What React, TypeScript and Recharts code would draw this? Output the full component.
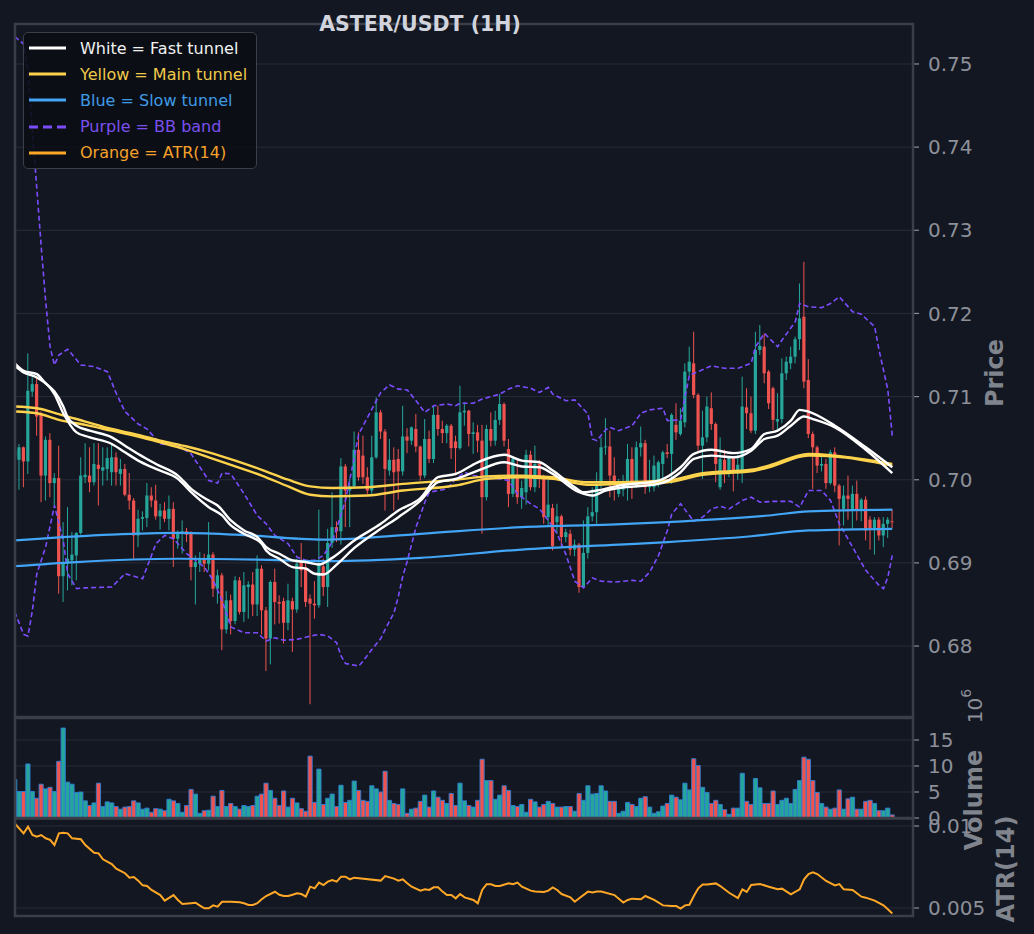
import React from "react";
import {
  ComposedChart,
  Bar,
  Line,
  XAxis,
  YAxis,
  CartesianGrid,
  Cell,
  Legend,
} from "recharts";

// hourly candles, index 0..199
const opens = [
  0.7028, 0.7024, 0.7039, 0.7022, 0.7106, 0.7115, 0.7078, 0.7005, 0.7048, 0.6996,
  0.7002, 0.6884, 0.6901, 0.6903, 0.6909, 0.6936, 0.7003, 0.7005, 0.6997, 0.7018,
  0.7011, 0.7013, 0.7009, 0.7027, 0.7007, 0.7013, 0.6982, 0.6975, 0.6933, 0.6953,
  0.6954, 0.6981, 0.6975, 0.6956, 0.6963, 0.6953, 0.6965, 0.6929, 0.6935, 0.6938,
  0.6935, 0.6895, 0.6899, 0.6905, 0.6899, 0.691, 0.6869, 0.6885, 0.682, 0.6855,
  0.683, 0.6879, 0.6841, 0.6871, 0.6874, 0.685, 0.6893, 0.6843, 0.6809, 0.6877,
  0.6853, 0.6854, 0.6828, 0.6854, 0.6844, 0.6901, 0.6895, 0.6857, 0.6851, 0.6849,
  0.6896, 0.6871, 0.6924, 0.6943, 0.6938, 0.7016, 0.6987, 0.6992, 0.7036, 0.7029,
  0.7003, 0.6987, 0.7027, 0.7081, 0.7058, 0.7011, 0.7024, 0.7025, 0.701, 0.7052,
  0.7047, 0.7061, 0.704, 0.7005, 0.7049, 0.7025, 0.7078, 0.7061, 0.7056, 0.7065,
  0.7046, 0.7038, 0.7081, 0.7083, 0.7055, 0.7057, 0.7047, 0.6979, 0.7061, 0.7047,
  0.7072, 0.7091, 0.7037, 0.6983, 0.7005, 0.6979, 0.6985, 0.703, 0.6991, 0.7019,
  0.7003, 0.6955, 0.6966, 0.6949, 0.6956, 0.6931, 0.6935, 0.6916, 0.6922, 0.6871,
  0.6912, 0.6956, 0.6961, 0.6995, 0.7039, 0.704, 0.7005, 0.6983, 0.6988, 0.6991,
  0.7025, 0.6993, 0.7039, 0.7044, 0.6991, 0.6991, 0.6995, 0.7019, 0.7033, 0.7031,
  0.7066, 0.7055, 0.7069, 0.713, 0.714, 0.7102, 0.7041, 0.7051, 0.7086, 0.7067,
  0.6991, 0.7024, 0.7008, 0.7027, 0.7008, 0.701, 0.7087, 0.708, 0.7059, 0.7156,
  0.716, 0.713, 0.711, 0.707, 0.7073, 0.7128, 0.714, 0.7148, 0.7169, 0.7196,
  0.712, 0.7055, 0.7039, 0.7017, 0.7019, 0.6996, 0.7033, 0.6993, 0.6965, 0.6981,
  0.6963, 0.6983, 0.6964, 0.6976, 0.6952, 0.694, 0.6952, 0.6933, 0.6947, 0.695,
];
const highs = [
  0.7042, 0.7043, 0.704, 0.7152, 0.7123, 0.7122, 0.7082, 0.7052, 0.7056, 0.7008,
  0.7041, 0.6949, 0.6967, 0.6937, 0.6937, 0.7027, 0.7044, 0.7039, 0.7044, 0.7044,
  0.7039, 0.7039, 0.7044, 0.7033, 0.7025, 0.7019, 0.7008, 0.6978, 0.6964, 0.6962,
  0.6996, 0.6991, 0.6994, 0.6971, 0.6973, 0.6981, 0.6973, 0.6939, 0.6951, 0.6942,
  0.6938, 0.6909, 0.6913, 0.6911, 0.6949, 0.6913, 0.6892, 0.6888, 0.6866, 0.6862,
  0.6884, 0.6883, 0.6889, 0.6878, 0.6889, 0.6909, 0.6897, 0.6847, 0.6879, 0.6893,
  0.6861, 0.6858, 0.6875, 0.6858, 0.6905, 0.6924, 0.69, 0.6862, 0.6878, 0.6964,
  0.6905, 0.6941, 0.6985, 0.695, 0.7026, 0.7019, 0.7001, 0.7058, 0.7057, 0.7053,
  0.7015, 0.7053, 0.7099, 0.7084, 0.7061, 0.7049, 0.7039, 0.7037, 0.7089, 0.7062,
  0.7064, 0.7079, 0.7041, 0.7073, 0.7059, 0.7089, 0.7089, 0.7071, 0.7067, 0.7067,
  0.7053, 0.7113, 0.7093, 0.7084, 0.7069, 0.7066, 0.7066, 0.7066, 0.7081, 0.7083,
  0.7103, 0.7093, 0.7049, 0.7027, 0.7025, 0.6999, 0.7036, 0.7035, 0.7041, 0.7024,
  0.7006, 0.7, 0.6971, 0.6971, 0.6958, 0.6941, 0.694, 0.6928, 0.6924, 0.6951,
  0.6967, 0.6991, 0.7009, 0.7051, 0.7074, 0.7059, 0.7027, 0.7001, 0.7006, 0.7043,
  0.7039, 0.7046, 0.7064, 0.7048, 0.7024, 0.7029, 0.7023, 0.7035, 0.7043, 0.708,
  0.7092, 0.7086, 0.714, 0.716, 0.7178, 0.7104, 0.7083, 0.71, 0.7105, 0.7069,
  0.7051, 0.7036, 0.7028, 0.7028, 0.703, 0.7124, 0.711, 0.71, 0.7178, 0.7186,
  0.7176, 0.7132, 0.7112, 0.7104, 0.7146, 0.7148, 0.716, 0.7172, 0.7236, 0.7262,
  0.7145, 0.7058, 0.7041, 0.703, 0.7025, 0.7036, 0.7039, 0.6995, 0.6993, 0.7005,
  0.6993, 0.6999, 0.6978, 0.698, 0.6956, 0.6955, 0.6955, 0.6955, 0.6955, 0.6964,
];
const lows = [
  0.702, 0.6988, 0.6991, 0.7007, 0.71, 0.7053, 0.6973, 0.6975, 0.6979, 0.6969,
  0.6863, 0.6853, 0.6867, 0.6873, 0.6879, 0.6934, 0.6996, 0.6985, 0.6993, 0.6969,
  0.6993, 0.6999, 0.6993, 0.6993, 0.6993, 0.698, 0.6964, 0.6905, 0.6919, 0.6939,
  0.6943, 0.6967, 0.6952, 0.694, 0.6949, 0.6939, 0.6895, 0.6917, 0.6911, 0.6925,
  0.6879, 0.685, 0.6889, 0.6889, 0.6891, 0.6859, 0.6851, 0.6795, 0.6815, 0.6814,
  0.6826, 0.6838, 0.6829, 0.6833, 0.6836, 0.6836, 0.6814, 0.677, 0.6778, 0.6826,
  0.6827, 0.6803, 0.6819, 0.6793, 0.684, 0.6871, 0.6847, 0.673, 0.6833, 0.6846,
  0.686, 0.6847, 0.6918, 0.6925, 0.6922, 0.6943, 0.6943, 0.6991, 0.6999, 0.6995,
  0.6983, 0.6983, 0.7025, 0.7049, 0.6963, 0.7005, 0.6963, 0.6976, 0.7005, 0.7032,
  0.7042, 0.7033, 0.6999, 0.7002, 0.702, 0.702, 0.7053, 0.7044, 0.7044, 0.7025,
  0.7005, 0.7036, 0.7065, 0.704, 0.7031, 0.7033, 0.6935, 0.6975, 0.704, 0.7041,
  0.7066, 0.704, 0.6967, 0.6979, 0.6971, 0.6965, 0.697, 0.6987, 0.6985, 0.699,
  0.6947, 0.6945, 0.6915, 0.6935, 0.6919, 0.6925, 0.6909, 0.6908, 0.6864, 0.687,
  0.6905, 0.695, 0.6947, 0.699, 0.703, 0.6979, 0.6975, 0.6979, 0.698, 0.6975,
  0.6977, 0.699, 0.7028, 0.6983, 0.6985, 0.6986, 0.6991, 0.6995, 0.7026, 0.6995,
  0.7048, 0.7053, 0.7063, 0.7125, 0.7098, 0.7035, 0.7001, 0.7045, 0.706, 0.6997,
  0.6988, 0.6996, 0.7003, 0.6986, 0.7, 0.6996, 0.7061, 0.7056, 0.7055, 0.715,
  0.7116, 0.7085, 0.706, 0.706, 0.7068, 0.712, 0.7133, 0.714, 0.7156, 0.711,
  0.705, 0.6989, 0.7008, 0.701, 0.6989, 0.6994, 0.6985, 0.6921, 0.6945, 0.6952,
  0.6941, 0.6951, 0.695, 0.6927, 0.6916, 0.691, 0.6927, 0.6919, 0.693, 0.6942,
];
const closes = [
  0.7036, 0.7039, 0.7022, 0.7107, 0.7115, 0.7076, 0.7005, 0.7048, 0.6996, 0.7002,
  0.6884, 0.6901, 0.6905, 0.691, 0.6936, 0.7005, 0.7006, 0.6997, 0.7019, 0.7013,
  0.7015, 0.7026, 0.7027, 0.7009, 0.7013, 0.6982, 0.6975, 0.6933, 0.6953, 0.6955,
  0.6981, 0.6975, 0.6956, 0.6963, 0.6953, 0.6965, 0.6929, 0.6935, 0.6938, 0.6934,
  0.6895, 0.6901, 0.6905, 0.6899, 0.691, 0.6869, 0.6885, 0.682, 0.6855, 0.683,
  0.6879, 0.6841, 0.6873, 0.6874, 0.685, 0.6893, 0.6843, 0.6809, 0.6877, 0.6853,
  0.6851, 0.6828, 0.6855, 0.6844, 0.6899, 0.6891, 0.6853, 0.6851, 0.6849, 0.6899,
  0.6871, 0.6924, 0.6943, 0.6938, 0.7016, 0.6987, 0.6992, 0.7036, 0.7003, 0.7003,
  0.6987, 0.7027, 0.7081, 0.7058, 0.7013, 0.7024, 0.7009, 0.701, 0.7052, 0.7047,
  0.7063, 0.704, 0.7005, 0.7049, 0.7025, 0.7078, 0.7061, 0.7056, 0.7065, 0.7038,
  0.7038, 0.7081, 0.7083, 0.7055, 0.7057, 0.7047, 0.6979, 0.7061, 0.7047, 0.7072,
  0.7091, 0.7047, 0.6983, 0.7025, 0.6979, 0.699, 0.703, 0.6991, 0.7019, 0.7003,
  0.6955, 0.697, 0.692, 0.6956, 0.6931, 0.6937, 0.6916, 0.6922, 0.6871, 0.6912,
  0.6956, 0.6961, 0.6995, 0.7039, 0.704, 0.7005, 0.6995, 0.6991, 0.6993, 0.7025,
  0.6998, 0.7039, 0.7044, 0.6991, 0.6995, 0.7017, 0.7021, 0.7033, 0.7031, 0.7078,
  0.7057, 0.7071, 0.713, 0.7142, 0.7102, 0.7041, 0.7051, 0.7088, 0.7067, 0.7019,
  0.7025, 0.7008, 0.7027, 0.7008, 0.7018, 0.7088, 0.708, 0.7059, 0.7156, 0.7161,
  0.7128, 0.7092, 0.7072, 0.7073, 0.7128, 0.7142, 0.7148, 0.7169, 0.7194, 0.7118,
  0.7055, 0.7039, 0.7017, 0.7019, 0.6996, 0.7033, 0.6993, 0.6977, 0.6981, 0.6977,
  0.6983, 0.6964, 0.6976, 0.6939, 0.694, 0.6952, 0.6933, 0.6947, 0.6952, 0.6949,
];
// volume in millions
const volumes = [
  7.4, 5.1, 5.1, 10.4, 5.1, 3.8, 6.5, 5.6, 5.9, 5.1,
  10.9, 17.3, 6.9, 6.5, 4.9, 5.0, 3.3, 2.4, 2.9, 6.7,
  2.2, 3.1, 2.9, 2.2, 1.7, 2.1, 2.2, 3.3, 2.9, 1.7,
  1.9, 1.1, 1.8, 1.7, 1.4, 3.6, 3.3, 2.8, 1.1, 2.4,
  5.5, 4.6, 0.9, 1.4, 1.5, 4.2, 2.2, 5.3, 2.2, 2.8,
  2.2, 1.7, 2.4, 2.2, 2.4, 4.2, 4.6, 6.7, 5.3, 3.8,
  2.4, 5.2, 2.1, 3.8, 2.9, 1.8, 1.3, 11.9, 3.0, 9.4,
  2.6, 3.8, 4.6, 2.2, 6.3, 3.0, 3.4, 7.1, 5.3, 3.4,
  3.2, 6.2, 5.6, 5.0, 9.0, 3.4, 2.8, 2.6, 5.6, 0.9,
  1.7, 1.9, 3.2, 4.4, 2.1, 5.2, 4.0, 3.4, 2.8, 4.7,
  2.4, 6.7, 3.3, 2.4, 2.1, 3.4, 11.3, 7.2, 7.2, 3.6,
  4.4, 6.2, 5.3, 2.4, 2.2, 2.6, 1.1, 3.6, 3.1, 2.1,
  2.6, 3.2, 2.8, 2.1, 2.1, 2.2, 2.2, 1.3, 4.7, 3.4,
  6.2, 4.6, 4.7, 6.2, 5.2, 3.2, 3.2, 0.9, 1.3, 3.0,
  2.6, 2.2, 3.8, 4.1, 2.1, 0.9, 1.2, 2.3, 2.8, 4.4,
  4.0, 3.5, 6.7, 5.4, 11.4, 10.1, 5.9, 4.9, 2.8, 3.4,
  2.6, 1.6, 0.7, 1.9, 1.9, 8.6, 3.2, 2.6, 7.6, 5.8,
  2.8, 2.8, 5.2, 2.6, 3.4, 3.8, 2.8, 5.5, 7.2, 11.7,
  11.3, 7.2, 4.9, 2.8, 2.1, 1.7, 1.9, 5.4, 1.7, 3.7,
  4.0, 1.7, 1.7, 3.2, 3.4, 2.8, 1.4, 1.4, 1.9, 0.6,
];

// indicator readings: [candle index, value]
const fastUpper = [
  [0, 0.714], [2, 0.7131], [5, 0.7127], [7, 0.7116], [9, 0.7106], [11, 0.7088], [12, 0.7075],
  [14, 0.7065], [17, 0.7059], [22, 0.7051], [25, 0.7041], [28, 0.7031], [32, 0.7019], [37, 0.7005],
  [40, 0.6989], [44, 0.6975], [46, 0.6969], [49, 0.6951], [52, 0.6939], [55, 0.6931], [57, 0.6919],
  [60, 0.6911], [63, 0.6903], [66, 0.6901], [69, 0.6898], [72, 0.6906], [77, 0.6927], [83, 0.6947],
  [87, 0.6963], [92, 0.6978], [96, 0.7003], [100, 0.7007], [105, 0.7021], [111, 0.703], [115, 0.7023],
  [119, 0.7021], [122, 0.7011], [127, 0.6991], [129, 0.6985], [132, 0.6987], [137, 0.6993],
  [146, 0.6999], [151, 0.7015], [154, 0.7031], [158, 0.7036], [163, 0.7032], [167, 0.7037],
  [170, 0.7055], [173, 0.7059], [176, 0.7071], [178, 0.7084], [180, 0.7082], [186, 0.7065],
  [193, 0.7039], [199, 0.7015],
];
const fastLower = [
  [0, 0.7137], [2, 0.7129], [5, 0.7123], [9, 0.7103], [11, 0.708], [14, 0.7057], [17, 0.7051],
  [22, 0.7043], [25, 0.7033], [28, 0.7023], [32, 0.7013], [37, 0.7001], [40, 0.6985], [44, 0.6967],
  [47, 0.6957], [49, 0.6945], [52, 0.6935], [56, 0.6923], [57, 0.6915], [60, 0.6905], [63, 0.6895],
  [66, 0.6893], [68, 0.6887], [70, 0.6886], [73, 0.6898], [77, 0.6918], [83, 0.6941], [87, 0.6955],
  [92, 0.6975], [96, 0.6997], [100, 0.7001], [105, 0.7011], [111, 0.7021], [115, 0.7016],
  [119, 0.7015], [122, 0.7007], [128, 0.6985], [131, 0.6981], [134, 0.6987], [137, 0.699],
  [146, 0.6995], [151, 0.7009], [154, 0.7025], [158, 0.7029], [163, 0.7027], [167, 0.7035],
  [170, 0.7049], [173, 0.7053], [176, 0.7065], [179, 0.7076], [181, 0.7073], [186, 0.7063],
  [193, 0.7036], [199, 0.7008],
];
const mainUpper = [
  [0, 0.7088], [5, 0.7086], [10, 0.7079], [16, 0.707], [22, 0.7061], [28, 0.7054], [33, 0.7047],
  [39, 0.704], [44, 0.7033], [50, 0.7023], [56, 0.7012], [62, 0.7], [67, 0.6992], [72, 0.699],
  [80, 0.6991], [88, 0.6995], [100, 0.7], [107, 0.7004], [115, 0.7005], [122, 0.7003],
  [130, 0.6997], [137, 0.6997], [148, 0.6999], [156, 0.7008], [167, 0.7012], [171, 0.7017],
  [180, 0.7031], [186, 0.7029], [199, 0.7019],
];
const mainLower = [
  [0, 0.7082], [5, 0.708], [10, 0.7072], [16, 0.7066], [22, 0.7059], [28, 0.7052], [33, 0.7045],
  [39, 0.7036], [44, 0.7027], [50, 0.7016], [56, 0.7005], [62, 0.6992], [67, 0.6982], [72, 0.698],
  [80, 0.6981], [88, 0.6987], [100, 0.6993], [107, 0.7001], [115, 0.7003], [122, 0.7001],
  [130, 0.6994], [137, 0.6995], [148, 0.6997], [156, 0.7006], [167, 0.701], [171, 0.7015],
  [180, 0.7029], [186, 0.7028], [199, 0.7017],
];
const slowUpper = [
  [0, 0.6927], [22, 0.6934], [37, 0.6936], [50, 0.6934], [70, 0.6928], [92, 0.6935], [115, 0.6943],
  [135, 0.6946], [148, 0.6949], [171, 0.6957], [180, 0.6962], [199, 0.6964],
];
const slowLower = [
  [0, 0.6896], [14, 0.6901], [37, 0.6905], [55, 0.6904], [71, 0.6902], [92, 0.6906], [115, 0.6916],
  [137, 0.6922], [148, 0.6925], [167, 0.6932], [180, 0.6939], [199, 0.6941],
];
const bbUpper = [
  [0, 0.7533], [2, 0.7524], [3, 0.749], [4, 0.742], [5, 0.735], [6, 0.728], [7, 0.7215], [8, 0.716],
  [9, 0.7138], [10, 0.715], [12, 0.7157], [15, 0.7138], [18, 0.7136], [21, 0.713], [23, 0.7104],
  [25, 0.7082], [28, 0.7067], [30, 0.7061], [33, 0.7043], [37, 0.7041], [40, 0.7031], [44, 0.6999],
  [46, 0.6996], [47, 0.7008], [49, 0.7007], [52, 0.6983], [55, 0.6957], [57, 0.6947], [59, 0.6933],
  [62, 0.6923], [64, 0.6907], [66, 0.6903], [68, 0.6903], [70, 0.6909], [72, 0.6925], [75, 0.6975],
  [77, 0.7027], [78, 0.7055], [80, 0.7075], [82, 0.7095], [83, 0.7105], [85, 0.7114], [87, 0.7109],
  [89, 0.7108], [91, 0.7095], [93, 0.7081], [95, 0.7089], [98, 0.7091], [100, 0.7089], [101, 0.7092],
  [104, 0.7092], [106, 0.7097], [110, 0.7103], [112, 0.7109], [114, 0.7113], [117, 0.711],
  [119, 0.7105], [121, 0.7111], [122, 0.7103], [125, 0.7095], [127, 0.7096], [130, 0.7079],
  [131, 0.7049], [132, 0.7047], [134, 0.706], [135, 0.7063], [137, 0.7059], [140, 0.7065],
  [142, 0.708], [144, 0.7084], [147, 0.7086], [148, 0.7071], [151, 0.7072], [152, 0.71],
  [153, 0.7126], [155, 0.713], [158, 0.7137], [161, 0.7134], [164, 0.7134], [167, 0.714],
  [168, 0.716], [170, 0.7176], [173, 0.716], [174, 0.7168], [177, 0.719], [178, 0.7212],
  [180, 0.7208], [183, 0.7207], [185, 0.7212], [187, 0.722], [190, 0.7202], [192, 0.7199],
  [195, 0.7184], [196, 0.7156], [198, 0.7108], [199, 0.7053],
];
const bbLower = [
  [0, 0.6841], [2, 0.6814], [3, 0.6812], [4, 0.6843], [5, 0.6887], [7, 0.6919], [9, 0.6969],
  [11, 0.6927], [12, 0.6887], [14, 0.6869], [16, 0.687], [22, 0.6871], [25, 0.6887], [29, 0.6881],
  [32, 0.6923], [34, 0.6933], [36, 0.6929], [39, 0.6911], [43, 0.6895], [45, 0.6879], [47, 0.6855],
  [49, 0.6823], [52, 0.6816], [55, 0.6816], [57, 0.6806], [59, 0.681], [61, 0.6807], [64, 0.6808],
  [67, 0.6812], [69, 0.6814], [71, 0.6812], [73, 0.6804], [74, 0.6788], [75, 0.6779], [78, 0.6776],
  [79, 0.6782], [81, 0.6796], [83, 0.6809], [84, 0.682], [86, 0.684], [87, 0.686], [88, 0.6884],
  [89, 0.6902], [91, 0.6943], [93, 0.6973], [94, 0.6985], [96, 0.6987], [98, 0.6989], [100, 0.7001],
  [102, 0.7009], [104, 0.7005], [107, 0.7003], [110, 0.7001], [112, 0.6999], [114, 0.6983],
  [117, 0.6971], [119, 0.6965], [121, 0.6951], [123, 0.6935], [125, 0.691], [127, 0.6878],
  [129, 0.687], [131, 0.6882], [133, 0.6878], [136, 0.6877], [140, 0.6879], [142, 0.6878],
  [144, 0.6889], [146, 0.6909], [148, 0.6939], [149, 0.6959], [151, 0.6971], [153, 0.6957],
  [154, 0.695], [156, 0.6955], [158, 0.6965], [160, 0.6968], [162, 0.6965], [165, 0.6975],
  [167, 0.6979], [169, 0.6973], [172, 0.6974], [176, 0.6974], [178, 0.6967], [180, 0.6987],
  [183, 0.6987], [185, 0.6975], [187, 0.6947], [190, 0.6919], [193, 0.6891], [196, 0.6873],
  [197, 0.6869], [198, 0.6883], [199, 0.6909],
];
const atr14 = [
  [0, 0.01016], [2, 0.00955], [3, 0.00996], [4, 0.00945], [5, 0.00935], [6, 0.00945], [7, 0.00925],
  [8, 0.00915], [9, 0.00884], [10, 0.00955], [11, 0.00959], [12, 0.00955], [13, 0.00925],
  [15, 0.00919], [16, 0.00884], [18, 0.00837], [19, 0.00833], [20, 0.00797], [22, 0.00768],
  [23, 0.0074], [25, 0.00712], [26, 0.00685], [27, 0.00689], [28, 0.00667], [29, 0.00638],
  [30, 0.00634], [31, 0.0061], [33, 0.00579], [34, 0.00545], [36, 0.00579], [37, 0.00549],
  [38, 0.00524], [40, 0.00529], [41, 0.00532], [42, 0.00514], [43, 0.00498], [44, 0.00498],
  [45, 0.00516], [46, 0.00508], [47, 0.00538], [49, 0.00538], [51, 0.00535], [52, 0.00529],
  [53, 0.00518], [54, 0.00518], [55, 0.00529], [56, 0.00553], [57, 0.00573], [59, 0.00599],
  [60, 0.00581], [61, 0.00573], [62, 0.00573], [63, 0.00581], [64, 0.0059], [65, 0.00585],
  [66, 0.00569], [67, 0.0063], [68, 0.0062], [69, 0.00655], [70, 0.0064], [71, 0.00661],
  [72, 0.00671], [73, 0.00661], [74, 0.00691], [75, 0.00691], [76, 0.00675], [77, 0.00685],
  [83, 0.00667], [84, 0.00695], [86, 0.00679], [87, 0.00667], [88, 0.00675], [89, 0.00651],
  [90, 0.0063], [92, 0.00606], [93, 0.00614], [94, 0.0061], [95, 0.00626], [96, 0.00626],
  [97, 0.006], [98, 0.00579], [99, 0.00579], [100, 0.00559], [101, 0.00585], [102, 0.00565],
  [104, 0.00549], [105, 0.00528], [106, 0.0061], [107, 0.00645], [108, 0.00645], [109, 0.00634],
  [110, 0.00634], [112, 0.00651], [113, 0.00645], [114, 0.00655], [115, 0.0063], [117, 0.00606],
  [118, 0.006], [120, 0.00598], [121, 0.00606], [122, 0.00626], [123, 0.0061], [124, 0.00585],
  [126, 0.00565], [127, 0.00538], [128, 0.00559], [130, 0.006], [131, 0.00594], [132, 0.006],
  [133, 0.006], [136, 0.00579], [138, 0.00533], [139, 0.00549], [140, 0.00557], [142, 0.00553],
  [143, 0.00573], [145, 0.00549], [147, 0.00516], [149, 0.00512], [150, 0.00512], [151, 0.00496],
  [152, 0.00516], [153, 0.0052], [154, 0.00573], [155, 0.0062], [156, 0.00644], [157, 0.00644],
  [159, 0.0065], [160, 0.00634], [162, 0.00593], [164, 0.00561], [165, 0.00614], [166, 0.00598],
  [167, 0.0064], [169, 0.00646], [171, 0.0063], [173, 0.00614], [174, 0.00618], [176, 0.00583],
  [178, 0.00614], [179, 0.00675], [180, 0.00707], [181, 0.00717], [182, 0.00707], [184, 0.00665],
  [186, 0.00638], [187, 0.00646], [188, 0.00614], [190, 0.0061], [192, 0.00569], [193, 0.00563],
  [195, 0.00545], [197, 0.00516], [198, 0.00492], [199, 0.00467],
];

const xTicks = [0, 25, 50, 75, 100, 125, 150, 175, 200];
const priceTicks = [0.68, 0.69, 0.7, 0.71, 0.72, 0.73, 0.74, 0.75];
const volTicks = [0, 5, 10, 15];
const atrTicks = [0.005, 0.01];

const legendItems = [
  { label: "White = Fast tunnel", color: "#ffffff", text: "#f2f2f2", dashed: false },
  { label: "Yellow = Main tunnel", color: "#fdd34d", text: "#f1c94a", dashed: false },
  { label: "Blue = Slow tunnel", color: "#42a5f5", text: "#3f9be6", dashed: false },
  { label: "Purple = BB band", color: "#7c4dff", text: "#7a4ff0", dashed: true },
  { label: "Orange = ATR(14)", color: "#ffa726", text: "#f5a12a", dashed: false },
];

const BG = "#131722";
const GRID = "#282c37";
const SPINE = "#3a3e49";
const TICK = "#8d9099";
const UP = "#26a69a";
const DOWN = "#ef5350";
const FONT = "DejaVu Sans";

const lookup = (pts) => {
  const m = new Map();
  pts.forEach(([i, v]) => m.set(i, v));
  return (i) => (m.has(i) ? m.get(i) : null);
};
const fu = lookup(fastUpper);
const fl = lookup(fastLower);
const mu = lookup(mainUpper);
const ml = lookup(mainLower);
const su = lookup(slowUpper);
const sl = lookup(slowLower);
const bu = lookup(bbUpper);
const bl = lookup(bbLower);
const at = lookup(atr14);

const rows = opens.map((o, i) => ({
  i,
  o,
  h: highs[i],
  l: lows[i],
  c: closes[i],
  range: [lows[i], highs[i]],
  vol: volumes[i],
  fastA: fu(i),
  fastB: fl(i),
  mainA: mu(i),
  mainB: ml(i),
  slowA: su(i),
  slowB: sl(i),
  bbU: bu(i),
  bbL: bl(i),
  atr: at(i),
}));

const Candle = (props: any) => {
  const { x, y, width, height, payload } = props;
  const { o, h, l, c } = payload;
  const top = Math.min(y, y + height);
  const span = Math.abs(height);
  const py = (p: number) => top + ((h - p) / (h - l)) * span;
  const color = c >= o ? UP : DOWN;
  const cx = x + width / 2;
  const b0 = py(Math.max(o, c));
  const b1 = py(Math.min(o, c));
  return (
    <g>
      <line x1={cx} x2={cx} y1={top} y2={top + span} stroke={color} strokeWidth={1} />
      <rect x={cx - 1.6} y={b0} width={3.2} height={Math.max(b1 - b0, 0.9)} fill={color} />
    </g>
  );
};

const LegendBox = () => (
  <div
    style={{
      width: 234,
      height: 137,
      boxSizing: "border-box",
      background: "rgba(11,14,20,0.9)",
      border: "1.5px solid #3b3f4a",
      borderRadius: 5,
      paddingTop: 2,
      fontFamily: FONT,
      fontSize: 16,
    }}
  >
    {legendItems.map((it) => (
      <div key={it.label} style={{ height: 26.2, display: "flex", alignItems: "center" }}>
        <svg width={52} height={10} style={{ marginLeft: 4 }}>
          <line
            x1={1}
            x2={38}
            y1={5}
            y2={5}
            stroke={it.color}
            strokeWidth={3}
            strokeDasharray={it.dashed ? "9 5" : undefined}
          />
        </svg>
        <span style={{ color: it.text, whiteSpace: "nowrap" }}>{it.label}</span>
      </div>
    ))}
  </div>
);

const xAxisProps = {
  dataKey: "i",
  type: "number" as const,
  domain: [0.05, 203.7],
  ticks: xTicks,
  tick: false,
  tickLine: false,
  axisLine: false,
  height: 0,
  allowDataOverflow: true,
};

const tickStyle = { fill: TICK, fontSize: 20, fontFamily: FONT };

export default function App() {
  return (
    <div
      style={{
        position: "absolute",
        left: 0,
        top: 0,
        width: 1034,
        height: 934,
        background: BG,
        overflow: "hidden",
        fontFamily: FONT,
      }}
    >
      <div style={{ position: "absolute", left: 0, top: 0 }}>
        <ComposedChart width={1034} height={720} data={rows} margin={{ top: 24, right: 41, bottom: 3, left: 15 }}>
          <CartesianGrid stroke={GRID} strokeWidth={1} />
          <XAxis {...xAxisProps} />
          <YAxis
            orientation="right"
            type="number"
            width={80}
            domain={[0.671466, 0.754808]}
            ticks={priceTicks}
            interval={0}
            allowDataOverflow
            tickFormatter={(v) => v.toFixed(2)}
            tick={tickStyle}
            tickLine={{ stroke: TICK, strokeWidth: 1.2 }}
            tickSize={6}
            tickMargin={9}
            axisLine={false}
          />
          <Line dataKey="bbU" type="linear" stroke="#7c4dff" strokeWidth={1.6} strokeDasharray="5 3" dot={false} connectNulls isAnimationActive={false} />
          <Line dataKey="bbL" type="linear" stroke="#7c4dff" strokeWidth={1.6} strokeDasharray="5 3" dot={false} connectNulls isAnimationActive={false} />
          <Bar dataKey="range" barSize={4} shape={Candle} isAnimationActive={false} />
          <Line dataKey="slowA" type="monotone" stroke="#42a5f5" strokeWidth={2.2} dot={false} connectNulls isAnimationActive={false} />
          <Line dataKey="slowB" type="monotone" stroke="#42a5f5" strokeWidth={2.2} dot={false} connectNulls isAnimationActive={false} />
          <Line dataKey="mainA" type="monotone" stroke="#fdd34d" strokeWidth={2.4} dot={false} connectNulls isAnimationActive={false} />
          <Line dataKey="mainB" type="monotone" stroke="#fdd34d" strokeWidth={2.4} dot={false} connectNulls isAnimationActive={false} />
          <Line dataKey="fastA" type="monotone" stroke="#ffffff" strokeWidth={2.4} dot={false} connectNulls isAnimationActive={false} />
          <Line dataKey="fastB" type="monotone" stroke="#ffffff" strokeWidth={2.4} dot={false} connectNulls isAnimationActive={false} />
          <Legend
            layout="vertical"
            align="center"
            verticalAlign="middle"
            content={<LegendBox />}
            wrapperStyle={{ left: 23, top: 32, width: 234, height: 137 }}
          />
        </ComposedChart>
      </div>

      <div style={{ position: "absolute", left: 0, top: 700 }}>
        <ComposedChart width={1034} height={130} data={rows} margin={{ top: 18, right: 41, bottom: 12, left: 15 }}>
          <CartesianGrid stroke={GRID} strokeWidth={1} />
          <XAxis {...xAxisProps} />
          <YAxis
            orientation="right"
            type="number"
            width={80}
            domain={[0, 19.23]}
            ticks={volTicks}
            interval={0}
            allowDataOverflow
            tick={tickStyle}
            tickLine={{ stroke: TICK, strokeWidth: 1.2 }}
            tickSize={6}
            tickMargin={9}
            axisLine={false}
          />
          <Bar dataKey="vol" barSize={4.2} stroke="#2f7fd6" strokeWidth={0.9} isAnimationActive={false}>
            {rows.map((r) => (
              <Cell key={r.i} fill={r.c >= r.o ? UP : DOWN} />
            ))}
          </Bar>
        </ComposedChart>
      </div>

      <div style={{ position: "absolute", left: 0, top: 800 }}>
        <ComposedChart width={1034} height={134} data={rows} margin={{ top: 18.5, right: 41, bottom: 18, left: 15 }}>
          <CartesianGrid stroke={GRID} strokeWidth={1} />
          <XAxis {...xAxisProps} />
          <YAxis
            orientation="right"
            type="number"
            width={80}
            domain={[0.004512, 0.010457]}
            ticks={atrTicks}
            interval={0}
            allowDataOverflow
            tickFormatter={(v) => (v >= 0.01 ? "0.01" : "0.005")}
            tick={tickStyle}
            tickLine={{ stroke: TICK, strokeWidth: 1.2 }}
            tickSize={6}
            tickMargin={9}
            axisLine={false}
          />
          <Line dataKey="atr" type="linear" stroke="#ffa726" strokeWidth={2} dot={false} connectNulls isAnimationActive={false} />
        </ComposedChart>
      </div>

      <svg
        width={1034}
        height={934}
        style={{ position: "absolute", left: 0, top: 0, pointerEvents: "none" }}
      >
        <rect x={15} y={24} width={898} height={693} fill="none" stroke={SPINE} strokeWidth={2.5} />
        <rect x={15} y={718} width={898} height={100} fill="none" stroke={SPINE} strokeWidth={2.5} />
        <rect x={15} y={818.5} width={898} height={97.5} fill="none" stroke={SPINE} strokeWidth={2.5} />
        <text x={420} y={24} textAnchor="middle" dominantBaseline="central" fill="#d1d4dc" fontSize={20.5} fontWeight="bold" fontFamily={FONT}>
          ASTER/USDT (1H)
        </text>
        <text transform="translate(995,373) rotate(-90)" textAnchor="middle" dominantBaseline="central" fill="#80848d" fontSize={24} fontWeight="bold" fontFamily={FONT}>
          Price
        </text>
        <text transform="translate(974,800) rotate(-90)" textAnchor="middle" dominantBaseline="central" fill="#80848d" fontSize={24} fontWeight="bold" fontFamily={FONT}>
          Volume
        </text>
        <text transform="translate(1006,869) rotate(-90)" textAnchor="middle" dominantBaseline="central" fill="#80848d" fontSize={24} fontWeight="bold" fontFamily={FONT}>
          ATR(14)
        </text>
        <text transform="translate(975,706) rotate(-90)" textAnchor="middle" dominantBaseline="central" fill={TICK} fontSize={20} fontFamily={FONT}>
          10<tspan fontSize={14} dy={-9}>6</tspan>
        </text>
      </svg>
    </div>
  );
}
